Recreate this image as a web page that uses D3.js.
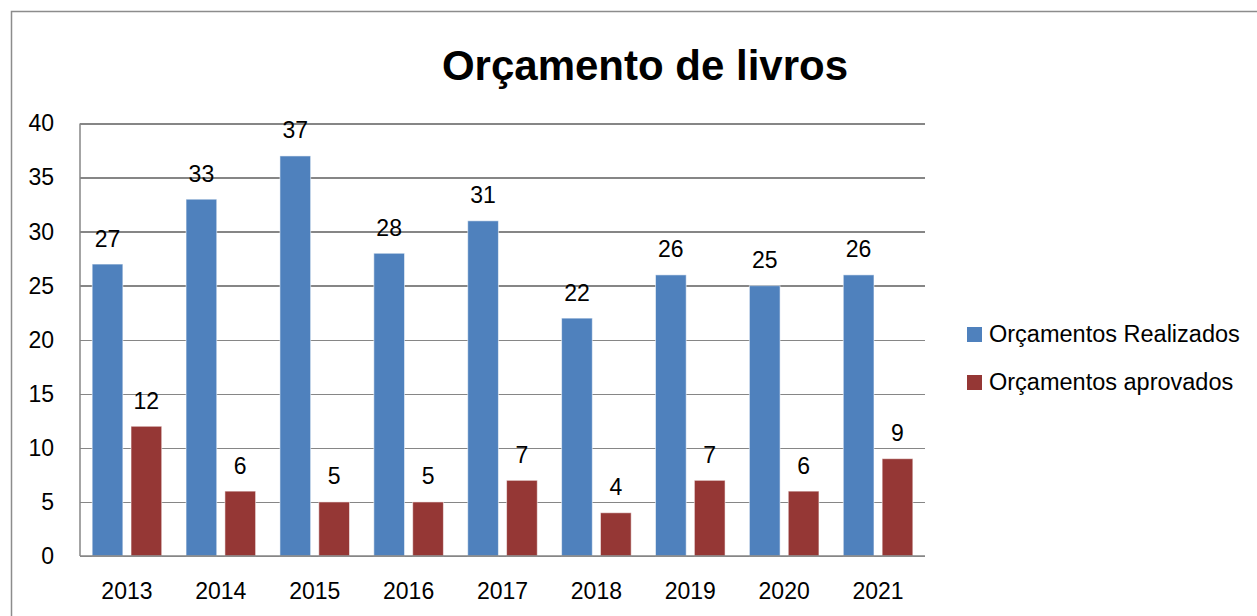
<!DOCTYPE html>
<html>
<head>
<meta charset="UTF-8">
<title>Orçamento de livros</title>
<style>
  body { margin: 0; background: #fff; }
  svg text { font-family: "Liberation Sans", Arial, sans-serif; fill: #000; }
  .grid line { stroke: #868686; stroke-width: 1.5; shape-rendering: crispEdges; }
  .grid text { font-size: 23px; }
</style>
</head>
<body>
<script src="https://cdn.jsdelivr.net/npm/d3@7/dist/d3.min.js"></script>
<script>
// dados
var anos = ["2013", "2014", "2015", "2016", "2017", "2018", "2019", "2020", "2021"];
var realizados = [27, 33, 37, 28, 31, 22, 26, 25, 26];
var aprovados = [12, 6, 5, 5, 7, 4, 7, 6, 9];
var series = ["Orçamentos Realizados", "Orçamentos aprovados"];
var cores = ["#4F81BD", "#953735"];
var yTicks = [0, 5, 10, 15, 20, 25, 30, 35, 40];

var W = 1257, H = 616;
var pLeft = 80, pRight = 925, pTop = 123.5, pBottom = 556;

var svg = d3.select("body").append("svg")
    .attr("width", W)
    .attr("height", H);

// moldura externa
svg.append("rect")
    .attr("x", 11.5).attr("y", 11.5)
    .attr("width", 1400).attr("height", 800)
    .attr("fill", "none")
    .attr("stroke", "#8c8c8c")
    .attr("stroke-width", 1.5);

svg.append("text")
    .attr("x", 645).attr("y", 80)
    .attr("text-anchor", "middle")
    .style("font-size", "42px")
    .style("font-weight", "bold")
    .text("Orçamento de livros");

var x0 = d3.scaleBand()
    .domain(anos)
    .range([pLeft, pRight])
    .paddingInner(0.259)
    .paddingOuter(0.1295);

var x1 = d3.scaleBand()
    .domain(series)
    .range([0, x0.bandwidth()])
    .paddingInner(0.21);

var y = d3.scaleLinear()
    .domain([0, 40])
    .range([pBottom, pTop]);

// linhas de grade + rótulos do eixo y
var gy = svg.append("g")
    .attr("class", "grid")
    .attr("transform", "translate(" + pLeft + ",0)")
    .call(d3.axisLeft(y).tickValues(yTicks).tickSize(-(pRight - pLeft)).tickPadding(26));
gy.select(".domain").remove();
gy.selectAll("text").style("font-size", "23px").attr("fill", "#000");

// eixo y
svg.append("line")
    .attr("x1", pLeft).attr("x2", pLeft)
    .attr("y1", pTop).attr("y2", pBottom)
    .attr("stroke", "#868686").attr("stroke-width", 1.5);

var dados = anos.map(function(a, i) {
    return { ano: a, vals: [realizados[i], aprovados[i]] };
});

var grupos = svg.selectAll(".ano")
    .data(dados)
    .enter().append("g")
    .attr("class", "ano")
    .attr("transform", function(d) { return "translate(" + x0(d.ano) + ",0)"; });

grupos.selectAll("rect")
    .data(function(d) { return d.vals.map(function(v, j) { return { s: series[j], v: v, c: cores[j] }; }); })
    .enter().append("rect")
    .attr("x", function(d) { return x1(d.s); })
    .attr("y", function(d) { return y(d.v); })
    .attr("width", x1.bandwidth())
    .attr("height", function(d) { return y(0) - y(d.v); })
    .attr("fill", function(d) { return d.c; })
    .attr("stroke", "rgba(255,255,255,0.55)")
    .attr("stroke-width", 1);

grupos.selectAll(".rot")
    .data(function(d) { return d.vals.map(function(v, j) { return { s: series[j], v: v }; }); })
    .enter().append("text")
    .attr("class", "rot")
    .attr("x", function(d) { return x1(d.s) + x1.bandwidth() / 2; })
    .attr("y", function(d) { return y(d.v) - 17.5; })
    .attr("text-anchor", "middle")
    .style("font-size", "23px")
    .text(function(d) { return d.v; });

// eixo x
svg.append("line")
    .attr("x1", pLeft).attr("x2", pRight)
    .attr("y1", pBottom).attr("y2", pBottom)
    .attr("stroke", "#868686").attr("stroke-width", 1.5);

svg.selectAll(".xlab")
    .data(anos)
    .enter().append("text")
    .attr("class", "xlab")
    .attr("x", function(d) { return x0(d) + x0.bandwidth() / 2; })
    .attr("y", 599)
    .attr("text-anchor", "middle")
    .style("font-size", "23px")
    .text(function(d) { return d; });

// legenda
var leg = svg.selectAll(".leg")
    .data(series)
    .enter().append("g")
    .attr("class", "leg")
    .attr("transform", function(d, i) { return "translate(967," + (327 + i * 48) + ")"; });

leg.append("rect")
    .attr("width", 15).attr("height", 15)
    .attr("fill", function(d, i) { return cores[i]; });

leg.append("text")
    .attr("x", 22).attr("y", 15)
    .style("font-size", "23.5px")
    .text(function(d) { return d; });
</script>
</body>
</html>
